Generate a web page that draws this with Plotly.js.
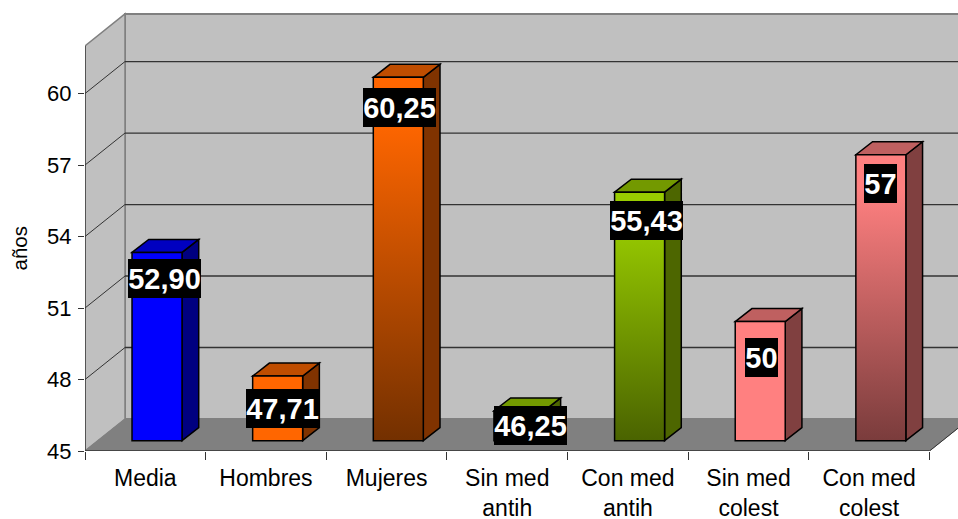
<!DOCTYPE html>
<html>
<head>
<meta charset="utf-8">
<script src="https://cdn.plot.ly/plotly-3.0.1.min.js"></script>
<style>html,body{margin:0;padding:0;background:#fff;overflow:hidden}</style>
</head>
<body>
<div id="chart" style="width:958px;height:519px"></div>
<script>
// ---- data ----
const categories = ['Media', 'Hombres', 'Mujeres', 'Sin med<br>antih', 'Con med<br>antih', 'Sin med<br>colest', 'Con med<br>colest'];
const values = [52.90, 47.71, 60.25, 46.25, 55.43, 50, 57];
const valueLabels = ['52,90', '47,71', '60,25', '46,25', '55,43', '50', '57'];
const yTicks = [45, 48, 51, 54, 57, 60];
const yTitle = 'años';

// ---- styles ----
const frontTop = ['#0000FF', '#FF6600', '#FF6600', '#99CC00', '#99CC00', '#FF8080', '#FF8080'];
const frontBottom = ['#0000FF', '#FF6600', '#733000', '#99CC00', '#4A6300', '#FF8080', '#7A3C3C'];
const sideTop = ['#000080', '#803300', '#803300', '#4D6600', '#4D6600', '#804040', '#804040'];
const sideBottom = ['#000080', '#803300', '#2A1200', '#4D6600', '#192200', '#804040', '#241010'];
const capBack = ['#0000C0', '#BF4D00', '#7A3100', '#739900', '#4D6600', '#BF6060', '#804040'];
const capFront = ['#0000C0', '#BF4D00', '#BF4D00', '#739900', '#739900', '#BF6060', '#BF6060'];
const labelDx = [7, 5, 1.5, 11.5, 6.5, 1, -0.5];
const labelDy = [26, 32, 30, 14.5, 28.5, 36, 29];

// ---- pixel scale of the frame ----
const W = 958, H = 519, mL = 85, mR = 0, mT = 10, mB = 68;
const catPx = 120.64, valPx = 23.83;
const xMin = -0.5, xMax = xMin + (W - mL - mR) / catPx;
const yMin = 45, yMax = yMin + (H - mT - mB) / valPx;
const dxPx = p => p / catPx, dyPx = p => p / valPx;
const wallDx = dxPx(40), wallDy = dyPx(32), frontTopVal = 62;
const barW = dxPx(50), barShift = dxPx(11.7), barLift = dyPx(10.3);
const depthX = dxPx(16.7), depthY = dyPx(13);

const poly = pts => 'M' + pts.map(p => p[0] + ',' + p[1]).join('L') + 'Z';
const shape = (path, fill, lineColor, lineW) => ({
  type: 'path', xref: 'x', yref: 'y', layer: 'below', path: path,
  fillcolor: fill, line: {color: lineColor, width: lineW}
});
const seg = (x0, y0, x1, y1, c, w) => ({
  type: 'line', xref: 'x', yref: 'y', layer: 'below', x0, y0, x1, y1, line: {color: c, width: w}
});

const L = xMin, R = xMin + 7;
const shapes = [];
// back wall, side wall, floor
shapes.push(shape(poly([[L + wallDx, yMin + wallDy], [L + wallDx, frontTopVal + wallDy], [R + wallDx + 1, frontTopVal + wallDy], [R + wallDx + 1, yMin + wallDy]]), '#C0C0C0', '#808080', 2));
shapes.push(shape(poly([[L, yMin], [L, frontTopVal], [L + wallDx, frontTopVal + wallDy], [L + wallDx, yMin + wallDy]]), '#C0C0C0', '#808080', 1.5));
// grid lines on the walls
yTicks.slice(1).forEach(t => {
  shapes.push(seg(L + wallDx, t + wallDy, R + wallDx + 1, t + wallDy, '#333333', 1.3));
  shapes.push(seg(L, t, L + wallDx, t + wallDy, '#333333', 1));
});
shapes.push(shape(poly([[L, yMin], [L + wallDx, yMin + wallDy], [R + wallDx, yMin + wallDy], [R, yMin]]), '#808080', '#808080', 1));
shapes.push(seg(R, yMin, R + wallDx, yMin + wallDy, '#333333', 1));

// depth faces of each bar, computed from its value
const gradTargets = [];
values.forEach((v, i) => {
  const x0 = i + barShift - barW / 2, x1 = x0 + barW;
  const yb = yMin + barLift, yt = v + barLift;
  gradTargets.push({index: shapes.length, id: 's' + i, a: sideTop[i], b: sideBottom[i]});
  shapes.push(shape(poly([[x1, yb], [x1 + depthX, yb + depthY], [x1 + depthX, yt + depthY], [x1, yt]]), sideTop[i], '#000000', 1.5));
  gradTargets.push({index: shapes.length, id: 'c' + i, a: capBack[i], b: capFront[i]});
  shapes.push(shape(poly([[x0, yt], [x0 + depthX, yt + depthY], [x1 + depthX, yt + depthY], [x1, yt]]), capFront[i], '#000000', 1.5));
});
// axis lines
shapes.push(seg(L, yMin, L, frontTopVal, '#333333', 1.3));
shapes.push(seg(L, yMin, R, yMin, '#333333', 1.3));

const trace = {
  type: 'bar',
  x: categories,
  y: values.map(v => v - yMin),
  base: yMin + barLift,
  width: barW,
  offset: barShift - barW / 2,
  marker: {color: frontTop, line: {color: '#000000', width: 1.5}},
  hoverinfo: 'skip',
  showlegend: false
};

const annotations = values.map((v, i) => ({
  x: categories[i], y: v, xref: 'x', yref: 'y',
  text: '<b>' + valueLabels[i] + '</b>',
  showarrow: false,
  xshift: barShift * catPx + labelDx[i],
  yshift: valPx * barLift - labelDy[i],
  xanchor: 'center', yanchor: 'middle',
  width: valueLabels[i].length > 2 ? 73 : 33, height: 39, align: 'center', valign: 'middle',
  bgcolor: '#000000', borderpad: 0, borderwidth: 0,
  font: {family: 'Liberation Sans, Arial, sans-serif', size: 29, color: '#FFFFFF'}
}));
annotations.push({
  xref: 'paper', yref: 'paper', x: (18.5 - mL) / (W - mL), y: (H - mB - 249) / (H - mT - mB),
  text: yTitle, textangle: -90, showarrow: false, xanchor: 'center', yanchor: 'middle',
  font: {family: 'Liberation Sans, Arial, sans-serif', size: 20.5, color: '#000000'}
});

const layout = {
  width: W, height: H,
  margin: {l: mL, r: mR, t: mT, b: mB, pad: 0},
  paper_bgcolor: '#FFFFFF', plot_bgcolor: 'rgba(0,0,0,0)',
  showlegend: false, bargap: 0,
  font: {family: 'Liberation Sans, Arial, sans-serif', size: 22, color: '#000000'},
  xaxis: {
    type: 'category', categoryorder: 'array', categoryarray: categories,
    range: [xMin, xMax], fixedrange: true, tickson: 'boundaries',
    ticks: 'outside', ticklen: 8, tickwidth: 1, tickcolor: '#333333',
    showgrid: false, zeroline: false, showline: false,
    ticklabelstandoff: 11,
    tickfont: {size: 23, color: '#000000'}
  },
  yaxis: {
    type: 'linear', range: [yMin, yMax], fixedrange: true,
    tickmode: 'array', tickvals: yTicks, ticktext: yTicks.map(String),
    ticks: 'outside', ticklen: 6, tickwidth: 1, tickcolor: '#333333',
    showgrid: false, zeroline: false, showline: false,
    ticklabelstandoff: 2,
    tickfont: {size: 22, color: '#000000'}
  },
  shapes, annotations
};

Plotly.newPlot('chart', [trace], layout, {displayModeBar: false, staticPlot: true}).then(gd => {
  const svg = gd.querySelector('svg.main-svg');
  const NS = 'http://www.w3.org/2000/svg';
  const defs = document.createElementNS(NS, 'defs');
  svg.insertBefore(defs, svg.firstChild);
  const addGrad = (id, a, b, hold) => {
    const g = document.createElementNS(NS, 'linearGradient');
    g.setAttribute('id', id);
    g.setAttribute('x1', '0'); g.setAttribute('y1', '0');
    g.setAttribute('x2', '0'); g.setAttribute('y2', '1');
    [[0, a], [hold, a], [1, b]].forEach(([o, c]) => {
      const s = document.createElementNS(NS, 'stop');
      s.setAttribute('offset', o); s.setAttribute('stop-color', c);
      g.appendChild(s);
    });
    defs.appendChild(g);
  };
  gradTargets.forEach(t => {
    addGrad(t.id, t.a, t.b, t.id[0] === 's' ? 0.12 : 0);
    const p = gd.querySelector('.layer-below .shapelayer path[data-index="' + t.index + '"]');
    if (p) p.style.fill = 'url(#' + t.id + ')';
  });
  gd.querySelectorAll('.barlayer .point path').forEach((p, i) => {
    addGrad('f' + i, frontTop[i], frontBottom[i], 0.12);
    p.style.fill = 'url(#f' + i + ')';
  });
});
</script>
</body>
</html>
